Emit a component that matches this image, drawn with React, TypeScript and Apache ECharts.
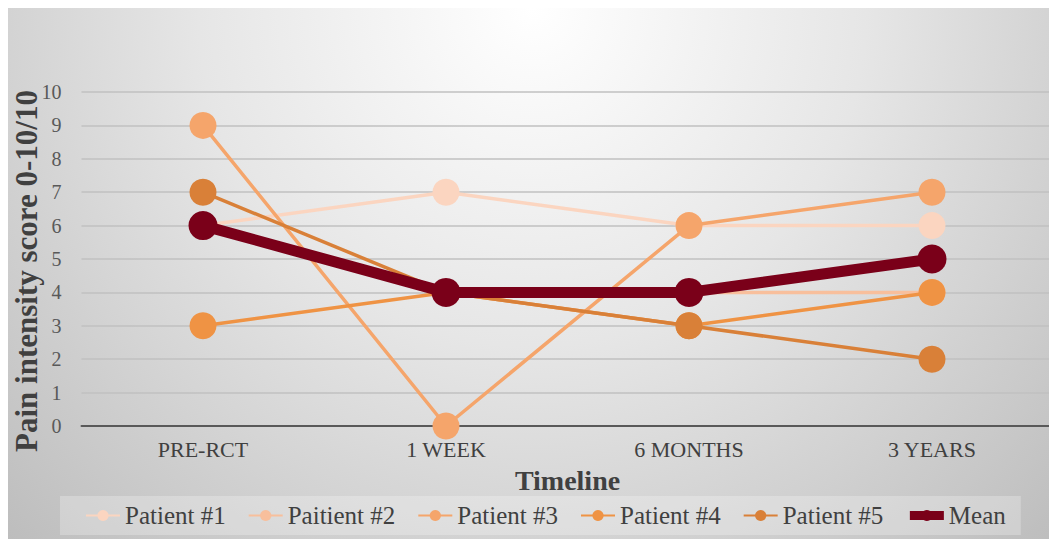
import React, { useEffect, useRef } from "react";
import * as echarts from "echarts";

const categories = ["PRE-RCT", "1 WEEK", "6 MONTHS", "3 YEARS"];
const seriesNames = ["Patient #1", "Paitient #2", "Patient #3", "Patient #4", "Patient #5", "Mean"];
const patient1 = [6, 7, 6, 6];
const patient2 = [6, 4, 4, 4];
const patient3 = [9, 0, 6, 7];
const patient4 = [3, 4, 3, 4];
const patient5 = [7, 4, 3, 2];
const mean = [6, 4, 4, 5];
const yTicks = { min: 0, max: 10, interval: 1 };
const colors = ["#fbd5c0", "#f8bf9c", "#f5a56b", "#ef9344", "#d98038", "#7a0019"];

const FONT = "Liberation Serif, Times New Roman, serif";

export default function App() {
  const ref = useRef<HTMLDivElement>(null);
  useEffect(() => {
    if (!ref.current) return;
    const chart = echarts.init(ref.current, undefined, { renderer: "svg" });
    const allData = [patient1, patient2, patient3, patient4, patient5, mean];
    const series = allData.map((d, i) => {
      const isMean = i === 5;
      return {
        name: seriesNames[i],
        type: "line",
        data: d,
        symbol: "circle",
        symbolSize: isMean ? 29 : 27,
        z: isMean ? 10 : 2 + i,
        lineStyle: { color: colors[i], width: isMean ? 11 : 3.5 },
        itemStyle: { color: colors[i] },
        emphasis: { disabled: true },
      };
    });
    const legendData = seriesNames.map((n, i) =>
      i === 5 ? { name: n, lineStyle: { width: 9 } } : { name: n }
    );
    chart.setOption({
      animation: false,
      backgroundColor: "transparent",
      color: colors,
      grid: {
        left: 73.5,
        right: 3.5,
        top: 84,
        bottom: 113,
        containLabel: false,
        outerBoundsMode: "none",
      },
      xAxis: {
        type: "category",
        data: categories,
        boundaryGap: true,
        axisTick: { show: false },
        axisLine: { lineStyle: { color: "#595959", width: 2 } },
        axisLabel: { fontFamily: FONT, fontSize: 22, color: "#404040", margin: 12 },
        name: "Timeline",
        nameLocation: "middle",
        nameGap: 40,
        nameMoveOverlap: false,
        nameTextStyle: { fontFamily: FONT, fontSize: 28, fontWeight: "bold", color: "#404040" },
      },
      yAxis: {
        type: "value",
        min: yTicks.min,
        max: yTicks.max,
        interval: yTicks.interval,
        axisLine: { show: false },
        axisTick: { show: false },
        splitLine: { lineStyle: { color: "#c0c0c0", width: 1.5 } },
        axisLabel: { fontFamily: FONT, fontSize: 20, color: "#595959", margin: 20 },
        name: "Pain intensity score 0-10/10",
        nameLocation: "middle",
        nameRotate: 90,
        nameGap: 40,
        nameMoveOverlap: false,
        nameTextStyle: {
          fontFamily: FONT,
          fontSize: 31,
          fontWeight: "bold",
          color: "#404040",
          padding: [0, 24, 0, 0],
        },
      },
      legend: {
        data: legendData,
        left: 52,
        top: 488,
        itemWidth: 34,
        itemHeight: 14,
        itemGap: 22,
        padding: [7, 15, 7, 25],
        backgroundColor: "rgba(255,255,255,0.25)",
        textStyle: { fontFamily: FONT, fontSize: 25, color: "#404040" },
      },
      series,
    });
    return () => chart.dispose();
  }, []);
  return (
    <div
      ref={ref}
      style={{
        width: 1049,
        height: 531,
        background: "radial-gradient(ellipse at 50% 0%, #ffffff 0%, #e6e6e6 45%, #bdbdbd 100%)",
      }}
    />
  );
}
